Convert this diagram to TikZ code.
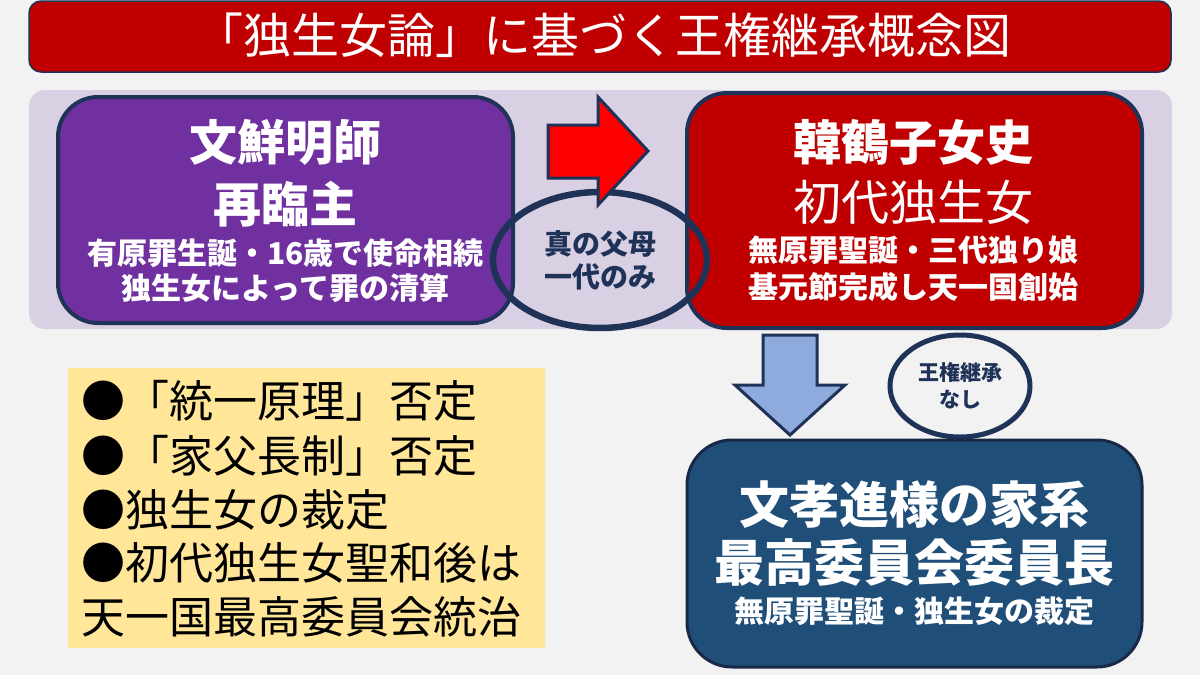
\documentclass[tikz,border=0pt]{standalone}
\usepackage{fontspec}
\setmainfont{Noto Sans CJK JP}
\usetikzlibrary{shapes.geometric}
\definecolor{bggray}{HTML}{F2F2F2}
\definecolor{titlered}{HTML}{C00000}
\definecolor{panellav}{HTML}{D9D0E3}
\definecolor{munpurple}{HTML}{7030A0}
\definecolor{hanred}{HTML}{C00000}
\definecolor{navyline}{HTML}{1F3257}
\definecolor{hyoblue}{HTML}{1F4E79}
\definecolor{arrowblue}{HTML}{8FAADC}
\definecolor{arrowred}{HTML}{FF0000}
\definecolor{notegold}{HTML}{FFE699}
\newcommand{\jpsize}[2]{\fontsize{#1pt}{#2pt}\selectfont}

\begin{document}
\begin{tikzpicture}[x=1pt,y=-1pt,
  card/.style={draw=navyline,line width=4pt,rounded corners=40pt,inner sep=0pt},
  oval/.style={ellipse,draw=navyline,inner sep=0pt,text=navyline,align=center},
  big/.style={text=white,font=\jpsize{48}{48}\bfseries},
  small/.style={text=white,font=\jpsize{30}{30}\bfseries},
  note/.style={anchor=west,text=black,font=\jpsize{44}{44}},
  block/.style={draw=navyline,line width=3pt,line join=miter}]
% background and title
\fill[bggray] (0,0) rectangle (1200,675);
\draw[fill=titlered,draw=navyline,line width=1.5pt,rounded corners=12pt] (29,1) rectangle (1171,72);
\node[text=white,font=\jpsize{48}{48}] (title) at (603,35) {「独生女論」に基づく王権継承概念図};
% upper panel
\fill[panellav,rounded corners=16pt] (29,90) rectangle (1172,329);
\node[card,fill=munpurple,minimum width=455pt,minimum height=226pt] (mun) at (285.5,210) {};
\node[big] (munname) at (285.5,142) {文鮮明師};
\node[big] (munrole) at (285.5,204) {再臨主};
\node[small] (munline1) at (285.5,253) {有原罪生誕・16歳で使命相続};
\node[small] (munline2) at (285.5,288) {独生女によって罪の清算};
\node[card,fill=hanred,minimum width=455pt,minimum height=235pt] (han) at (914.5,210.5) {};
\node[big] (hanname) at (913,142) {韓鶴子女史};
\node[text=white,font=\jpsize{48}{48}] (hanrole) at (913,202) {初代独生女};
\node[small] (hanline1) at (913,250) {無原罪聖誕・三代独り娘};
\node[small] (hanline2) at (913,287) {基元節完成し天一国創始};
\node[oval,line width=6.5pt,minimum width=214pt,minimum height=136pt,
  font=\jpsize{28}{33}\bfseries] (parents) at (600,260) {真の父母\\一代のみ};
\draw[block,fill=arrowred] (548,125) -- (598,125) -- (598,97) -- (648,151)
  -- (598,205) -- (598,178) -- (548,178) -- cycle;
% lower part
\draw[block,fill=arrowblue] (763,335) -- (817,335) -- (817,385) -- (845,385)
  -- (790,435) -- (735,385) -- (763,385) -- cycle;
\node[oval,line width=5pt,minimum width=140pt,minimum height=102pt,
  font=\jpsize{21}{27}\bfseries] (nosucc) at (960,386) {王権継承\\なし};
\node[card,draw=navyline!80!black,line width=3pt,rounded corners=45pt,fill=hyoblue,
  minimum width=455pt,minimum height=227pt] (hyo) at (914.5,553.5) {};
\node[text=white,font=\jpsize{50}{50}\bfseries] (hyoname) at (914.5,505) {文孝進様の家系};
\node[text=white,font=\jpsize{50}{50}\bfseries] (hyorole) at (914.5,562) {最高委員会委員長};
\node[small] (hyoline) at (914.5,611) {無原罪聖誕・独生女の裁定};
\node[fill=notegold,minimum width=477pt,minimum height=280pt,inner sep=0pt] (notes) at (306.5,508) {};
\node[note] (note1) at (78,401) {●「統一原理」否定};
\node[note] (note2) at (78,456) {●「家父長制」否定};
\node[note] (note3) at (78,510) {●独生女の裁定};
\node[note] (note4) at (78,563) {●初代独生女聖和後は};
\node[note] (note5) at (78,617) {天一国最高委員会統治};
\end{tikzpicture}
\end{document}
